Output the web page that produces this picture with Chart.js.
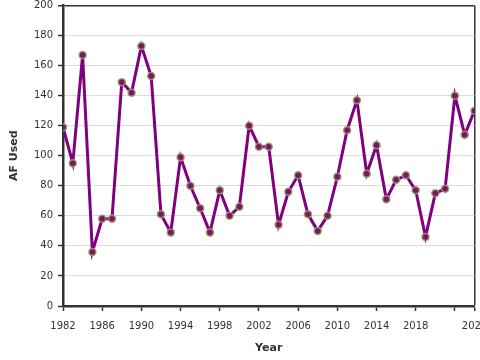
<!DOCTYPE html>
<html>
<head>
<meta charset="utf-8">
<script src="https://cdn.jsdelivr.net/npm/chart.js@4.4.1/dist/chart.umd.min.js"></script>
<style>
  html, body { margin: 0; padding: 0; background: #fff; }
  #wrap { width: 480px; height: 360px; }
</style>
</head>
<body>
<div id="wrap"><canvas id="afChart" width="480" height="360"></canvas></div>
<script>
// data
const years = [1982, 1983, 1984, 1985, 1986, 1987, 1988, 1989, 1990, 1991,
               1992, 1993, 1994, 1995, 1996, 1997, 1998, 1999, 2000, 2001,
               2002, 2003, 2004, 2005, 2006, 2007, 2008, 2009, 2010, 2011,
               2012, 2013, 2014, 2015, 2016, 2017, 2018, 2019, 2020, 2021,
               2022, 2023, 2024];
const afUsed = [119, 95, 167, 36, 58, 58, 149, 142, 173, 153,
                61, 49, 99, 80, 65, 49, 77, 60, 66, 120,
                106, 106, 54, 76, 87, 61, 50, 60, 86, 117,
                137, 88, 107, 71, 84, 87, 77, 46, 75, 78,
                140, 114, 130];
const xTicks = [1982, 1986, 1990, 1994, 1998, 2002, 2006, 2010, 2014, 2018, 2022, 2024];
const xHiddenLabels = [2022];
const yTicks = [0, 20, 40, 60, 80, 100, 120, 140, 160, 180, 200];

const FONT = 'DejaVu Sans';
const ctx = document.getElementById('afChart').getContext('2d');

new Chart(ctx, {
    type: 'line',
    data: {
        datasets: [{
            data: years.map((y, i) => ({ x: y, y: afUsed[i] })),
            borderColor: '#800080',
            borderWidth: 3,
            tension: 0,
            pointRadius: 3.5,
            pointBackgroundColor: '#731a63',
            pointBorderColor: 'rgba(160,150,105,0.9)',
            pointBorderWidth: 1.5
        }]
    },
    options: {
        responsive: false,
        animation: false,
        layout: { padding: { top: 4, right: 5, left: 0, bottom: 0 } },
        plugins: { legend: { display: false }, tooltip: { enabled: false } },
        scales: {
            x: {
                type: 'linear',
                min: 1982,
                max: 2024,
                afterBuildTicks: axis => { axis.ticks = xTicks.map(v => ({ value: v })); },
                afterFit: axis => { axis.height = 54; axis.paddingLeft = 0; axis.paddingRight = 0; },
                ticks: {
                    autoSkip: false,
                    maxRotation: 0,
                    padding: 9,
                    color: '#333',
                    font: { family: FONT, size: 10 },
                    callback: v => xHiddenLabels.includes(v) ? '' : String(v)
                },
                grid: {
                    color: c => (c.tick && c.tick.value === 2024) ? '#333' : 'rgba(0,0,0,0)',
                    lineWidth: c => (c.tick && c.tick.value === 2024) ? 1.5 : 1,
                    tickColor: '#333',
                    tickLength: 5,
                    tickWidth: 1.5
                },
                border: { color: '#333', width: 2.5 },
                title: {
                    display: true,
                    text: 'Year',
                    color: '#333',
                    font: { family: FONT, size: 11, weight: 'bold' },
                    padding: { top: 0, bottom: 5 }
                }
            },
            y: {
                min: 0,
                max: 200,
                afterBuildTicks: axis => { axis.ticks = yTicks.map(v => ({ value: v })); },
                afterFit: axis => { axis.width = 63; axis.paddingTop = 0; axis.paddingBottom = 0; },
                ticks: {
                    padding: 5,
                    color: '#333',
                    font: { family: FONT, size: 10 }
                },
                grid: {
                    color: c => (c.tick && c.tick.value === 200) ? '#333' : '#dcdcdc',
                    lineWidth: c => (c.tick && c.tick.value === 200) ? 1.5 : 1,
                    tickColor: '#333',
                    tickLength: 5,
                    tickWidth: 1.5
                },
                border: { color: '#333', width: 2.5 },
                title: {
                    display: true,
                    text: 'AF Used',
                    color: '#333',
                    font: { family: FONT, size: 11, weight: 'bold' },
                    padding: { top: 8, bottom: 0 }
                }
            }
        }
    }
});
</script>
</body>
</html>
